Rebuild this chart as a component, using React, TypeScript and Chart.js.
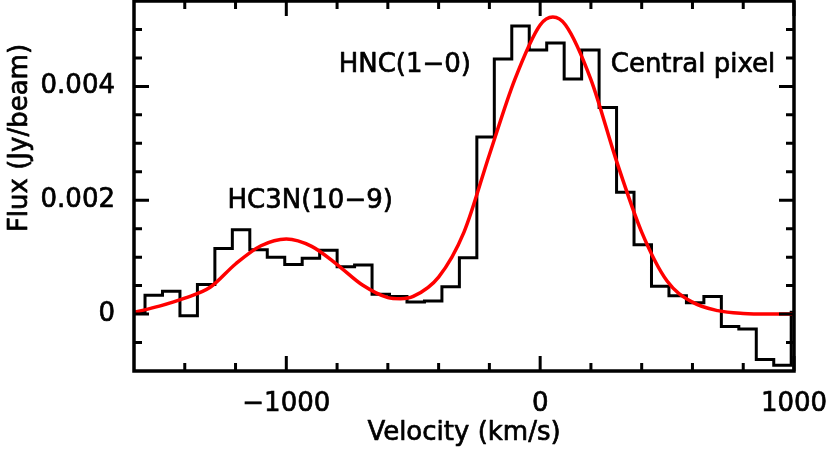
import React, { useEffect, useRef } from 'react';
import { Chart, registerables } from 'chart.js';

Chart.register(...registerables);

// Histogram: left edges of channels (km/s), last entry is the right edge of the final channel
const binEdges = [
  -1625.4, -1556.6, -1487.8, -1419.0, -1350.2, -1281.4, -1212.6, -1143.8, -1075.0, -1006.2,
  -937.4, -868.6, -799.8, -731.0, -662.2, -593.4, -524.6, -455.8, -387.0, -318.2,
  -249.4, -180.6, -111.8, -43.0, 25.8, 94.6, 163.4, 232.2, 301.0, 369.8,
  438.6, 507.4, 576.2, 645.0, 713.8, 782.6, 851.4, 920.2, 989.0, 1057.8,
];
// Flux in each channel (Jy/beam)
const binFlux = [
  0.00003, 0.00033, 0.0004, -0.00003, 0.00052, 0.00115, 0.00148, 0.00113, 0.001, 0.00087,
  0.00098, 0.00112, 0.00083, 0.00086, 0.00035, 0.00031, 0.00021, 0.00023, 0.00048, 0.00099,
  0.00311, 0.00448, 0.00506, 0.00464, 0.00476, 0.00413, 0.00464, 0.00363, 0.00214, 0.00122,
  0.00049, 0.00032, 0.0002, 0.00031, -0.00022, -0.00026, -0.0008, -0.0009, 0.00003,
];

// Red fit curve
const fitVelocity = [
  -1600, -1500, -1400, -1300, -1200, -1100, -1000, -900, -800, -700, -600, -550, -500, -400,
  -300, -200, -100, 0, 50, 100, 200, 300, 400, 500, 600, 700, 800, 900, 1000,
];
const fitFlux = [
  0.00003, 0.00014, 0.00028, 0.00047, 0.00088, 0.0012, 0.00132, 0.00119, 0.00087, 0.00051,
  0.00029, 0.00027, 0.00031, 0.00065, 0.00144, 0.0028, 0.00412, 0.00508, 0.00522, 0.00508,
  0.00412, 0.0027, 0.00144, 0.00058, 0.00021, 0.00006, 0.00001, 0, 0,
];

const xLabelTicks = [-1000, 0, 1000];
const xMinorTicks = [-1400, -1200, -800, -600, -400, -200, 200, 400, 600, 800];
const yLabelTicks = [0, 0.002, 0.004];
const yMinorTicks = [-0.0005, 0.0005, 0.001, 0.0015, 0.0025, 0.003, 0.0035, 0.0045, 0.005];

const annotations = [
  { text: 'HNC(1\u22120)', v: -533, f: 0.00425 },
  { text: 'Central pixel', v: 602, f: 0.00425 },
  { text: 'HC3N(10\u22129)', v: -906, f: 0.00186 },
];

const xTitle = 'Velocity (km/s)';
const yTitle = 'Flux (Jy/beam)';

const FONT = '"DejaVu Sans", sans-serif';
const TEXT_STROKE = 0.7;

const framePlugin = {
  id: 'framePlugin',
  afterDraw(chart: any) {
    const { ctx, chartArea: a, scales } = chart;
    const xs = scales.x;
    const ys = scales.y;
    ctx.save();
    ctx.strokeStyle = '#000';
    ctx.lineCap = 'butt';
    ctx.lineWidth = 3;
    ctx.beginPath();
    const xt = (v: number, len: number) => {
      const p = xs.getPixelForValue(v);
      ctx.moveTo(p, a.bottom);
      ctx.lineTo(p, a.bottom - len);
      ctx.moveTo(p, a.top);
      ctx.lineTo(p, a.top + len);
    };
    const yt = (v: number, len: number) => {
      const p = ys.getPixelForValue(v);
      ctx.moveTo(a.left, p);
      ctx.lineTo(a.left + len, p);
      ctx.moveTo(a.right, p);
      ctx.lineTo(a.right - len, p);
    };
    xLabelTicks.forEach((v) => xt(v, 15));
    xMinorTicks.forEach((v) => xt(v, 8));
    yLabelTicks.forEach((v) => yt(v, 15));
    yMinorTicks.forEach((v) => yt(v, 8));
    ctx.stroke();
    ctx.lineWidth = 3.5;
    ctx.strokeRect(a.left, a.top, a.right - a.left, a.bottom - a.top);

    ctx.fillStyle = '#000';
    ctx.font = `26px ${FONT}`;
    ctx.lineWidth = TEXT_STROKE;
    ctx.lineJoin = 'round';
    ctx.textAlign = 'center';
    ctx.textBaseline = 'alphabetic';
    const txt = (s: string, x: number, y: number) => {
      ctx.fillText(s, x, y);
      ctx.strokeText(s, x, y);
    };
    annotations.forEach((an) => {
      txt(an.text, xs.getPixelForValue(an.v), ys.getPixelForValue(an.f));
    });

    // x-axis title, centred under the plot
    txt(xTitle, (a.left + a.right) / 2, 440);

    // y-axis title
    ctx.translate(27, 138);
    ctx.rotate(-Math.PI / 2);
    txt(yTitle, 0, 0);
    ctx.restore();
  },
};

const fmt = (v: number) => {
  if (v === 0) return '0';
  const s = Math.abs(v) >= 1 ? String(Math.abs(v)) : Math.abs(v).toFixed(3);
  return v < 0 ? '\u2212' + s : s;
};

const noPad = (s: any) => {
  s.paddingTop = 0;
  s.paddingBottom = 0;
  s.paddingLeft = 0;
  s.paddingRight = 0;
};

export default function App() {
  const ref = useRef<HTMLCanvasElement | null>(null);
  useEffect(() => {
    if (!ref.current) return;
    Chart.defaults.font.family = FONT;
    Chart.defaults.color = '#000';
    const histData = binFlux.map((f, i) => ({ x: binEdges[i], y: f }));
    histData.push({ x: binEdges[binEdges.length - 1], y: binFlux[binFlux.length - 1] });
    const fitData = fitVelocity.map((v, i) => ({ x: v, y: fitFlux[i] }));
    const chart = new Chart(ref.current, {
      type: 'line',
      data: {
        datasets: [
          {
            data: fitData,
            borderColor: '#ff0000',
            borderWidth: 3.5,
            pointRadius: 0,
            cubicInterpolationMode: 'monotone',
            fill: false,
            order: 1,
          },
          {
            data: histData,
            borderColor: '#000',
            borderWidth: 3,
            pointRadius: 0,
            stepped: true,
            fill: false,
            order: 2,
          },
        ],
      },
      options: {
        animation: false,
        responsive: false,
        devicePixelRatio: 1,
        layout: { padding: { top: 1, right: 36, left: 0, bottom: 0 } },
        plugins: { legend: { display: false }, tooltip: { enabled: false } },
        scales: {
          x: {
            type: 'linear',
            min: -1600,
            max: 1000,
            grid: { display: false, drawTicks: false },
            border: { display: false },
            afterBuildTicks: (s: any) => {
              s.ticks = xLabelTicks.map((v) => ({ value: v }));
            },
            afterFit: (s: any) => {
              s.height = 78;
              noPad(s);
            },
            ticks: {
              autoSkip: false,
              maxRotation: 0,
              padding: 18,
              font: { size: 26, family: FONT },
              color: '#000',
              textStrokeColor: '#000',
              textStrokeWidth: TEXT_STROKE,
              callback: (v: any) => fmt(Number(v)),
            },
          },
          y: {
            type: 'linear',
            min: -0.001,
            max: 0.0055,
            grid: { display: false, drawTicks: false },
            border: { display: false },
            afterBuildTicks: (s: any) => {
              s.ticks = yLabelTicks.map((v) => ({ value: v }));
            },
            afterFit: (s: any) => {
              s.width = 134;
              noPad(s);
            },
            ticks: {
              autoSkip: false,
              padding: 19,
              font: { size: 26, family: FONT },
              color: '#000',
              textStrokeColor: '#000',
              textStrokeWidth: TEXT_STROKE,
              callback: (v: any) => fmt(Number(v)),
            },
          },
        },
      },
      plugins: [framePlugin],
    } as any);
    return () => chart.destroy();
  }, []);
  return (
    <div style={{ position: 'absolute', left: 0, top: 0, width: 830, height: 449, background: '#fff' }}>
      <canvas ref={ref} width={830} height={449} style={{ display: 'block' }} />
    </div>
  );
}
